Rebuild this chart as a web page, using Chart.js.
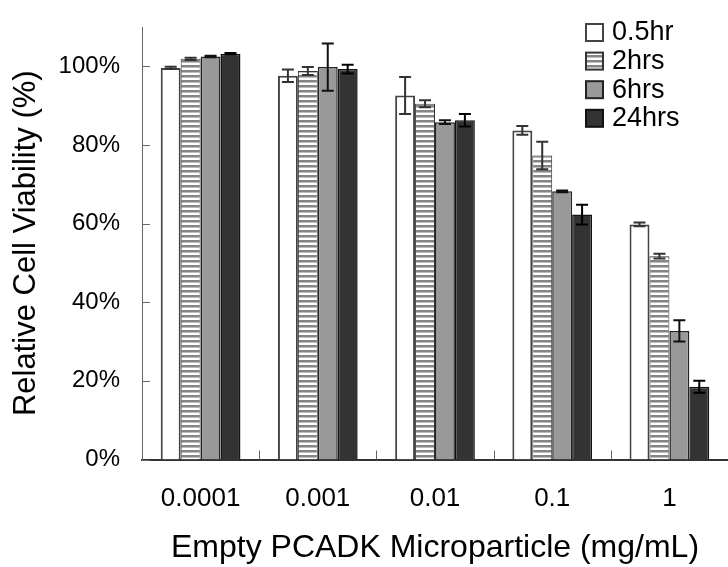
<!DOCTYPE html>
<html>
<head>
<meta charset="utf-8">
<script src="https://cdn.jsdelivr.net/npm/chart.js@4.4.1/dist/chart.umd.min.js"></script>
<style>
  html, body { margin: 0; padding: 0; background: #fff; }
</style>
</head>
<body>
<canvas id="viabilityChart" width="728" height="567"></canvas>
<script>
// concentrations (mg/mL)
const categories = ['0.0001', '0.001', '0.01', '0.1', '1'];
const seriesNames = ['0.5hr', '2hrs', '6hrs', '24hrs'];

// relative viability (%) and error (±)
const v05 = [99.6, 97.6, 92.6, 83.7, 59.8];
const e05 = [0.3, 1.6, 4.7, 1.1, 0.5];
const v2 = [101.9, 98.8, 90.5, 77.3, 51.7];
const e2 = [0.3, 1.0, 0.9, 3.5, 0.6];
const v6 = [102.5, 99.8, 85.8, 68.2, 32.7];
const e6 = [0.2, 6.0, 0.5, 0.2, 2.7];
const v24 = [103.2, 99.3, 86.3, 62.3, 18.5];
const e24 = [0.2, 1.1, 1.6, 2.5, 1.5];

const yTicks = [0, 20, 40, 60, 80, 100];

const FONT = '"Liberation Sans", Arial, sans-serif';

// horizontal stripes for the 2hrs bars
function stripePattern() {
    const c = document.createElement('canvas');
    c.width = 4;
    c.height = 5;
    const g = c.getContext('2d');
    g.fillStyle = '#ffffff';
    g.fillRect(0, 0, 4, 5);
    g.fillStyle = '#858585';
    g.fillRect(0, 0, 4, 2);
    g.fillStyle = '#bdbdbd';
    g.fillRect(0, 2, 4, 1);
    return g.createPattern(c, 'repeat');
}

const errorBars = {
    id: 'errorBars',
    afterDatasetsDraw(chart) {
        const ctx = chart.ctx;
        const y = chart.scales.y;
        ctx.save();
        ctx.lineWidth = 2;
        chart.data.datasets.forEach((ds, i) => {
            const meta = chart.getDatasetMeta(i);
            ctx.strokeStyle = ds.errorColor;
            meta.data.forEach((bar, j) => {
                const hi = y.getPixelForValue(ds.data[j] + ds.errors[j]);
                const lo = y.getPixelForValue(ds.data[j] - ds.errors[j]);
                const x = bar.x;
                ctx.beginPath();
                ctx.moveTo(x, hi); ctx.lineTo(x, lo);
                ctx.moveTo(x - 6, hi); ctx.lineTo(x + 6, hi);
                ctx.moveTo(x - 6, lo); ctx.lineTo(x + 6, lo);
                ctx.stroke();
            });
        });
        ctx.restore();
    }
};

// tick marks pointing into the plot
const innerTicks = {
    id: 'innerTicks',
    afterDraw(chart) {
        const ctx = chart.ctx;
        const x = chart.scales.x;
        const y = chart.scales.y;
        const area = chart.chartArea;
        ctx.save();
        ctx.strokeStyle = '#666';
        ctx.lineWidth = 1;
        ctx.beginPath();
        y.ticks.forEach(t => {
            const py = Math.round(y.getPixelForValue(t.value)) + 0.5;
            ctx.moveTo(area.left, py);
            ctx.lineTo(area.left + 8, py);
        });
        const half = (x.getPixelForValue(1) - x.getPixelForValue(0)) / 2;
        for (let i = 0; i < categories.length - 1; i++) {
            const px = Math.round(x.getPixelForValue(i) + half) + 0.5;
            ctx.moveTo(px, area.bottom);
            ctx.lineTo(px, area.bottom - 9);
        }
        ctx.stroke();
        ctx.restore();
    }
};

// legend box in the top right corner
const cornerLegend = {
    id: 'cornerLegend',
    afterDraw(chart) {
        const ctx = chart.ctx;
        ctx.save();
        ctx.font = '27px ' + FONT;
        ctx.textBaseline = 'middle';
        chart.data.datasets.forEach((ds, i) => {
            const cy = 32 + i * 28.6;
            ctx.fillStyle = ds.backgroundColor;
            ctx.fillRect(586, cy - 8, 17, 17);
            ctx.strokeStyle = ds.borderColor;
            ctx.lineWidth = 2;
            ctx.strokeRect(586, cy - 8, 17, 17);
            ctx.fillStyle = '#000';
            ctx.fillText(ds.label, 612, cy + 1);
        });
        ctx.restore();
    }
};

const ctx = document.getElementById('viabilityChart').getContext('2d');

new Chart(ctx, {
    type: 'bar',
    data: {
        labels: categories,
        datasets: [
            { label: seriesNames[0], data: v05, errors: e05, backgroundColor: '#ffffff', borderColor: '#444', borderWidth: 2, errorColor: '#333' },
            { label: seriesNames[1], data: v2, errors: e2, backgroundColor: stripePattern(), borderColor: '#333', borderWidth: 1, errorColor: '#333' },
            { label: seriesNames[2], data: v6, errors: e6, backgroundColor: '#999999', borderColor: '#222', borderWidth: 1.5, errorColor: '#111' },
            { label: seriesNames[3], data: v24, errors: e24, backgroundColor: '#333333', borderColor: '#111', borderWidth: 1.5, errorColor: '#000' }
        ]
    },
    options: {
        responsive: false,
        animation: false,
        categoryPercentage: 0.68,
        barPercentage: 1.0,
        layout: { padding: { top: 27, right: 0, bottom: 0, left: 0 } },
        plugins: {
            legend: { display: false },
            tooltip: { enabled: false }
        },
        scales: {
            x: {
                grid: { display: false, drawTicks: false },
                border: { display: true, color: '#333', width: 2 },
                ticks: {
                    color: '#000',
                    padding: 24,
                    font: { family: FONT, size: 26 }
                },
                title: {
                    display: true,
                    text: 'Empty PCADK Microparticle (mg/mL)',
                    color: '#000',
                    padding: { top: 0, bottom: 0 },
                    font: { family: FONT, size: 32 }
                },
                afterFit(scale) {
                    scale.height = 107.5;
                    scale.paddingLeft = 0;
                    scale.paddingRight = 0;
                }
            },
            y: {
                min: 0,
                max: 110,
                grid: { display: false, drawTicks: false },
                border: { display: true, color: '#666', width: 1 },
                ticks: {
                    stepSize: 20,
                    color: '#000',
                    padding: 22,
                    font: { family: FONT, size: 24 },
                    callback: v => v + '%'
                },
                afterBuildTicks(scale) {
                    scale.ticks = yTicks.map(v => ({ value: v }));
                },
                title: {
                    display: true,
                    text: 'Relative Cell Viability (%)',
                    color: '#000',
                    padding: { top: 8, bottom: 0 },
                    font: { family: FONT, size: 31 }
                },
                afterFit(scale) {
                    scale.width = 142;
                    scale.paddingTop = 0;
                    scale.paddingBottom = 0;
                }
            }
        }
    },
    plugins: [errorBars, innerTicks, cornerLegend]
});
</script>
</body>
</html>
